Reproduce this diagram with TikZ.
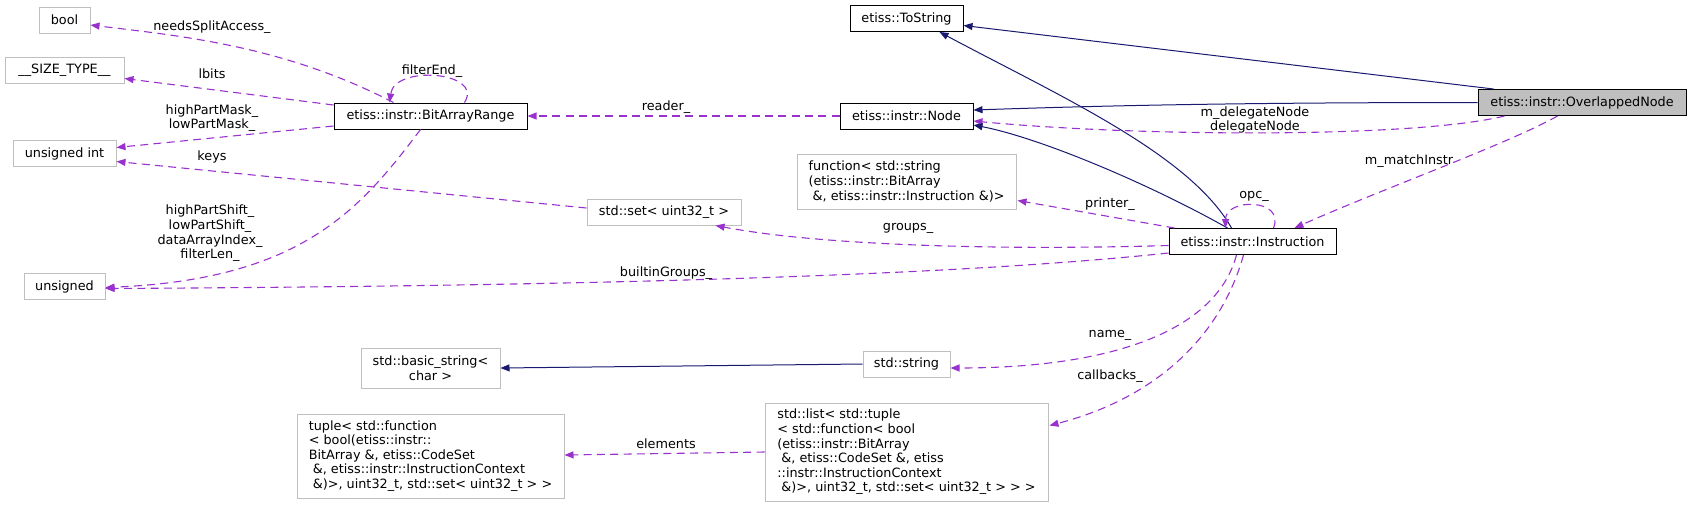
\documentclass[tikz,border=0pt]{standalone}
\usepackage{fontspec}
\setmainfont{DejaVu Sans}
\usepackage{tikz}
\usetikzlibrary{arrows.meta,calc,positioning}
\definecolor{inheritNavy}{RGB}{25,25,112}
\definecolor{memberOrchid}{RGB}{153,50,204}
\definecolor{undocGray}{RGB}{191,191,191}
\newcommand{\leadSpace}{\hspace*{0.32em}}

\begin{document}
\begin{tikzpicture}[x=1pt,y=-1pt,
    font=\fontsize{12.8}{14.6}\selectfont,
    box/.style={rectangle,inner sep=0pt,minimum height=26pt,fill=white,line width=1pt},
    docBox/.style={box,draw=black},
    extBox/.style={box,draw=undocGray},
    mainBox/.style={box,draw=black,fill=undocGray},
    inherit/.style={inheritNavy,line width=1pt,-{Triangle[length=9pt,width=7pt]}},
    member/.style={memberOrchid,line width=1.1pt,dash pattern=on 8pt off 5.3pt,-{Triangle[length=9pt,width=7pt]}},
    edgeLabel/.style={inner sep=0pt,align=center}]
  \useasboundingbox (0,0) rectangle (1691,507);

  % left column: plain types
  \node[extBox,minimum width=51pt] (bool) at (64.5,20) {bool};
  \node[extBox,minimum width=119pt] (size) at (64.5,70.5) {\_\_SIZE\_TYPE\_\_};
  \node[extBox,minimum width=103pt] (uint) at (64.5,153.5) {unsigned int};
  \node[extBox,minimum width=81pt] (unsigned) at (64.5,286.5) {unsigned};

  % second column
  \node[docBox,minimum width=193pt] (bar) at (430.5,116) {etiss::instr::BitArrayRange};
  \node[extBox,minimum width=139pt,minimum height=40pt,align=center] (basicstr) at (430.5,368)
    {std::basic\_string<\\char >};
  \node[extBox,minimum width=267pt,minimum height=84pt,align=left] (tuple) at (430.5,456)
    {tuple< std::function\\< bool(etiss::instr::\\BitArray \&, etiss::CodeSet\\\leadSpace\&, etiss::instr::InstructionContext\\\leadSpace\&)>, uint32\_t, std::set< uint32\_t > >};
  \node[extBox,minimum width=154pt] (set) at (664,212) {std::set< uint32\_t >};

  % third column
  \node[docBox,minimum width=113pt] (tostr) at (906.5,18.5) {etiss::ToString};
  \node[docBox,minimum width=133pt] (node) at (906.5,116) {etiss::instr::Node};
  \node[extBox,minimum width=219pt,minimum height=55pt,align=left] (func) at (906.5,181.5)
    {function< std::string\\(etiss::instr::BitArray\\\leadSpace\&, etiss::instr::Instruction \&)>};
  \node[extBox,minimum width=87pt] (str) at (906.5,364) {std::string};
  \node[extBox,minimum width=283pt,minimum height=98pt,align=left] (list) at (906.5,452)
    {std::list< std::tuple\\< std::function< bool\\(etiss::instr::BitArray\\\leadSpace\&, etiss::CodeSet \&, etiss\\::instr::InstructionContext\\\leadSpace\&)>, uint32\_t, std::set< uint32\_t > > >};

  % right columns
  \node[docBox,minimum width=167pt] (instr) at (1252.5,241.5) {etiss::instr::Instruction};
  \node[mainBox,minimum width=208pt] (ovl) at (1582,102.5) {etiss::instr::OverlappedNode};

  % inheritance
  \draw[inherit] ($(ovl.north west)+(16,0)$) -- ($(tostr.east)+(0,7)$);
  \draw[member] ($(ovl.south west)+(27,0)$) .. controls +(-90,22) and +(170,16) .. ($(node.east)+(0,5)$);
  \draw[inherit] (ovl.west) .. controls +(-250,0) and +(120,-4) .. ($(node.east)+(0,-6)$);
  \draw[inherit] ($(instr.north west)+(63,0)$) .. controls +(-42,-74) and +(120,64) .. ($(tostr.south)+(33,0)$);
  \draw[inherit] ($(instr.north west)+(59,0)$) .. controls +(-78,-44) and +(67,13) .. ($(node.east)+(0,9)$);
  \draw[inherit] (str.west) -- (basicstr.east);

  % members
  \draw[member] ($(instr.north west)+(105,0)$) .. controls +(12,-30) and +(0,-30) .. ($(instr.north west)+(57,0)$);
  \draw[member] ($(ovl.south west)+(80,0)$) .. controls +(-50,28) and +(90,-40) .. ($(instr.north east)+(-42,0)$);
  \draw[member] ($(instr.north west)+(6,0)$) -- ($(func.south east)+(1,-9)$);
  \draw[member] ($(instr.west)+(0,4)$) .. controls +(-169,5) and +(105,20) .. ($(set.south east)+(-26,0)$);
  \draw[member] ($(instr.south west)+(0,-2)$) .. controls +(-169,18) and +(595,-3) .. ($(unsigned.east)+(0,2)$);
  \draw[member] ($(set.west)+(0,-4)$) -- ($(uint.east)+(0,8)$);
  \draw[member] (node.west) -- (bar.east);
  \draw[member] ($(bar.north west)+(60,0)$) .. controls +(-110,-57) and +(90,11) .. ($(bool.east)+(0,5)$);
  \draw[member] ($(bar.west)+(0,-11)$) -- ($(size.east)+(0,8)$);
  \draw[member] ($(bar.west)+(0,10)$) -- ($(uint.east)+(0,-6)$);
  \draw[member] ($(bar.north west)+(131,0)$) .. controls +(20,-31) and +(5,-38) .. ($(bar.north west)+(56,0)$);
  \draw[member] ($(bar.south west)+(87,0)$) .. controls +(-61,81) and +(195,-8) .. ($(unsigned.east)+(0,1)$);
  \draw[member] ($(instr.south west)+(68,0)$) .. controls +(-22,81) and +(150,0) .. ($(str.east)+(0,4)$);
  \draw[member] ($(instr.south west)+(75,0)$) .. controls +(-24,86) and +(101,-26) .. ($(list.north east)+(1,23)$);
  \draw[member] (list.west) -- ($(tuple.east)+(0,-1)$);

  % edge labels
  \node[edgeLabel] (lblSplit) at (212,27) {needsSplitAccess\_};
  \node[edgeLabel] (lblBits) at (212,74) {lbits};
  \node[edgeLabel] (lblMask) at (212,118) {highPartMask\_\\lowPartMask\_};
  \node[edgeLabel] (lblKeys) at (212,157) {keys};
  \node[edgeLabel] (lblShift) at (210,233.5) {highPartShift\_\\lowPartShift\_\\dataArrayIndex\_\\filterLen\_};
  \node[edgeLabel] (lblEnd) at (432,71) {filterEnd\_};
  \node[edgeLabel] (lblReader) at (666,107) {reader\_};
  \node[edgeLabel] (lblGroups) at (908,228) {groups\_};
  \node[edgeLabel] (lblBuiltin) at (666,273) {builtinGroups\_};
  \node[edgeLabel] (lblPrinter) at (1110,204) {printer\_};
  \node[edgeLabel] (lblOpc) at (1254,196) {opc\_};
  \node[edgeLabel] (lblMatch) at (1409,161) {m\_matchInstr};
  \node[edgeLabel] (lblDelegate) at (1255,120) {m\_delegateNode\\delegateNode};
  \node[edgeLabel] (lblName) at (1110,335) {name\_};
  \node[edgeLabel] (lblCallbacks) at (1110,376) {callbacks\_};
  \node[edgeLabel] (lblElements) at (666,444) {elements};
\end{tikzpicture}
\end{document}
